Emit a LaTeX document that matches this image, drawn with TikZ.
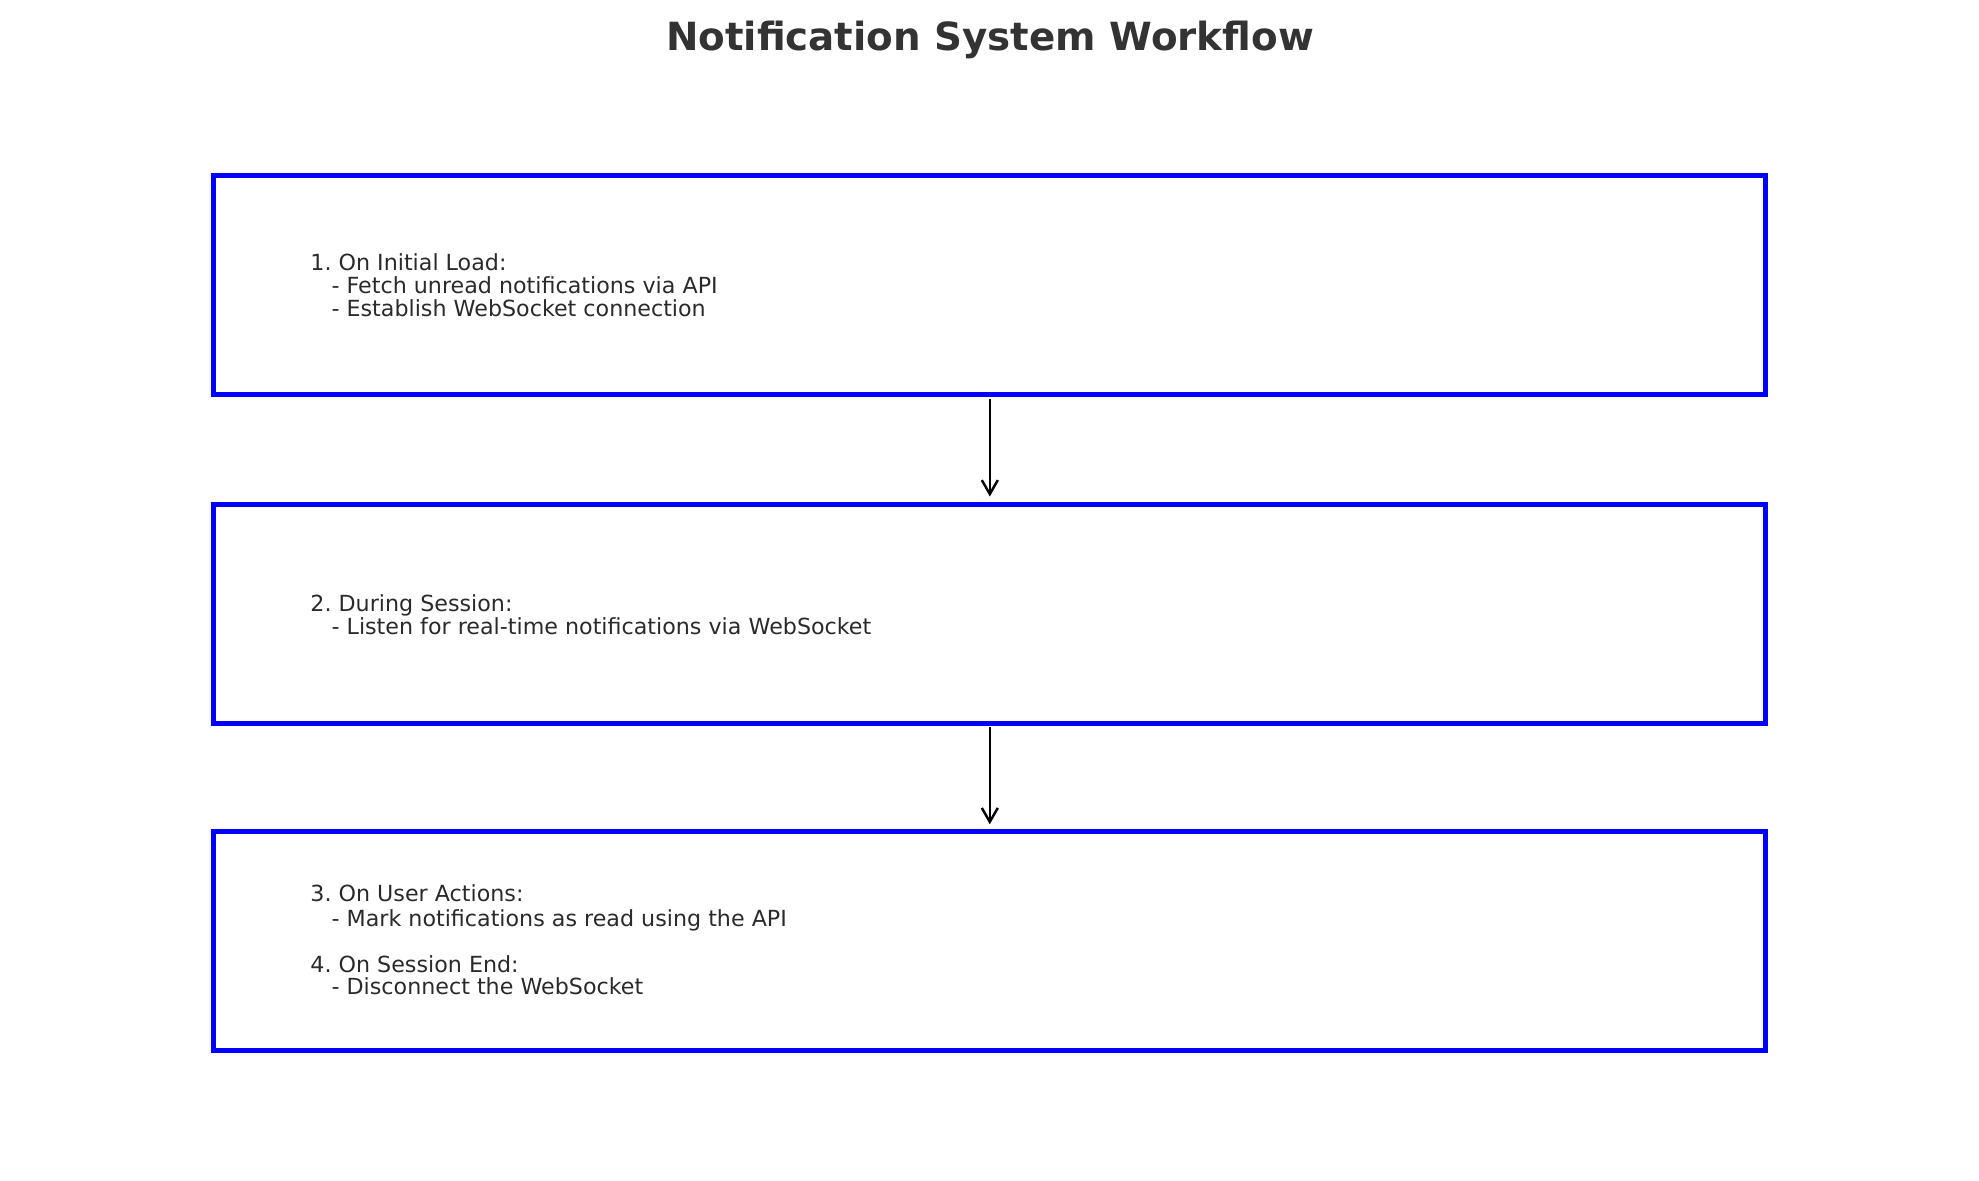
\documentclass[tikz,border=0pt]{standalone}
\usepackage{fontspec}
\setmainfont{DejaVu Sans}
\usetikzlibrary{arrows.meta}
\definecolor{txt}{HTML}{333333}
\definecolor{bodytxt}{HTML}{2A2A2A}
\definecolor{boxblue}{HTML}{0000FF}
\tikzset{
  stepbox/.style={draw=boxblue, line width=2.5pt, rectangle, minimum width=776pt, minimum height=109.5pt, inner sep=0pt},
  steptext/.style={anchor=base west, inner sep=0pt, text=bodytxt, font=\fontsize{11.1}{13}\selectfont},
  flowarrow/.style={draw=black, line width=1.2pt, -{Straight Barb[length=7pt, width=8pt, line width=1.2pt]}},
}
\newcommand{\ind}{\hspace*{0.954em}}
\frenchspacing
\begin{document}
\frenchspacing
\begin{tikzpicture}[x=0.5pt, y=-0.5pt]
\useasboundingbox (0,0) rectangle (1979,1180);
\node[anchor=base, text=txt, font=\fontsize{19.4}{23}\selectfont\bfseries, inner sep=0pt] (title) at (990,50) {Notification System Workflow};
\node[stepbox] (b1) at (989.8,285.4) {};
\node[stepbox] (b2) at (989.8,613.5) {};
\node[stepbox] (b3) at (989.8,941.3) {};
% box 1
\node[steptext] (t1a) at (310,270) {1. On Initial Load:};
\node[steptext] (t1b) at (310,293.3) {\ind- Fetch unread notifications via API};
\node[steptext] (t1c) at (310,316.5) {\ind- Establish WebSocket connection};
% box 2
\node[steptext] (t2a) at (310,611) {2. During Session:};
\node[steptext] (t2b) at (310,634) {\ind- Listen for real-time notifications via WebSocket};
% box 3
\node[steptext] (t3a) at (310,901.3) {3. On User Actions:};
\node[steptext] (t3b) at (310,926.3) {\ind- Mark notifications as read using the API};
\node[steptext] (t3c) at (310,972.3) {4. On Session End:};
\node[steptext] (t3d) at (310,994.8) {\ind- Disconnect the WebSocket};
\draw[flowarrow, shorten <=0.75pt, shorten >=2.5pt] (b1.south) -- (b2.north);
\draw[flowarrow, shorten <=0.75pt, shorten >=2.5pt] (b2.south) -- (b3.north);
\end{tikzpicture}
\end{document}
